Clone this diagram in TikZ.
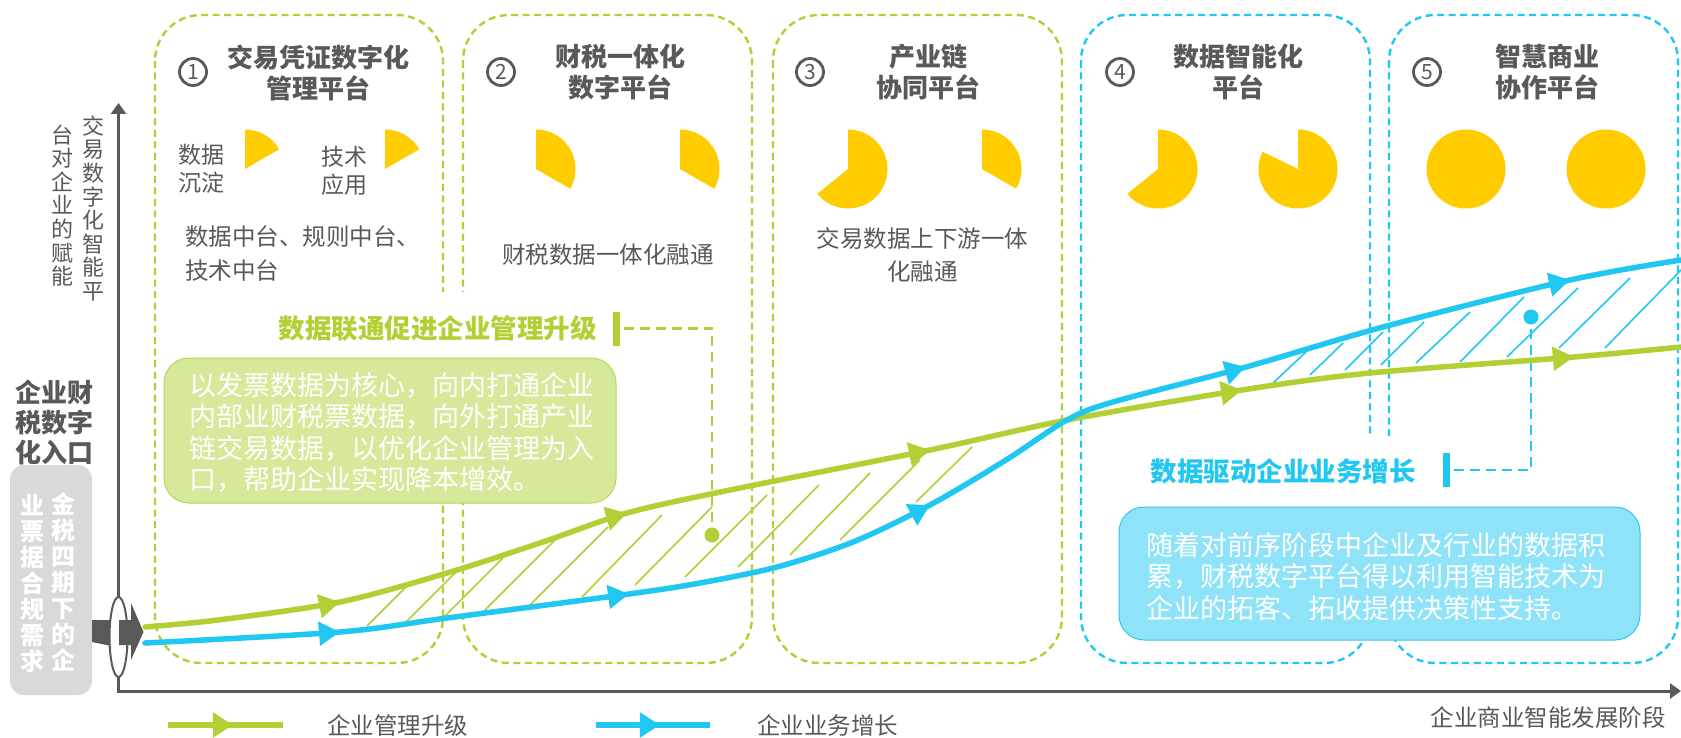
\documentclass[tikz,border=0pt]{standalone}
\usepackage{fontspec}
\setmainfont{Noto Sans CJK SC}
\usetikzlibrary{arrows.meta,decorations.markings}
\definecolor{gline}{RGB}{176,208,52}
\definecolor{bline}{RGB}{32,200,241}
\definecolor{dgray}{RGB}{89,89,89}
\definecolor{lgray}{RGB}{217,217,217}
\definecolor{pieyellow}{RGB}{255,204,0}
\definecolor{gfill}{RGB}{214,232,153}
\definecolor{gedge}{RGB}{186,214,80}
\definecolor{bfill}{RGB}{143,227,248}
\definecolor{bedge}{RGB}{50,198,240}
\begin{document}
\begin{tikzpicture}[x=1pt,y=-1pt,
  stagebox/.style={line width=2.4pt, dash pattern=on 7pt off 4.5pt, rounded corners=46pt},
  gstage/.style={stagebox, draw=gline},
  bstage/.style={stagebox, draw=bline},
  ttl/.style={font=\fontsize{26}{31}\selectfont\bfseries, text=dgray, align=center, inner sep=0pt},
  numc/.style={circle, draw=dgray, line width=2.8pt, minimum size=27pt, inner sep=0pt, font=\fontsize{21}{21}\selectfont, text=dgray},
  body/.style={font=\fontsize{23.5}{33.5}\selectfont, text=dgray, inner sep=0pt},
  pielab/.style={font=\fontsize{23}{28}\selectfont, text=dgray, align=left, inner sep=0pt},
  hatchg/.style={draw=gline, line width=1.6pt},
  hatchb/.style={draw=bline, line width=1.6pt},
  conn/.style={line width=2.4pt, dash pattern=on 10pt off 6pt},
  barbox/.style={minimum width=7pt, minimum height=34pt, inner sep=0pt},
  dotbox/.style={circle, minimum size=15pt, inner sep=0pt},
  curve/.style={line width=5.5pt, line cap=round},
  vcol/.style={font=\fontsize{24}{26}\selectfont\bfseries, text=white, align=center, inner sep=0pt},
  ylab/.style={font=\fontsize{22}{23.6}\selectfont, text=dgray, align=center, inner sep=0pt},
  note/.style={font=\fontsize{27}{31.6}\selectfont, text=white, align=left, inner sep=0pt}
]
\useasboundingbox[fill=white] (0,0) rectangle (1681,738);

% ---------- stage boxes ----------
\draw[gstage] (155,15) rectangle (443,663);
\draw[gstage] (463,15) rectangle (752,663);
\draw[gstage] (773,15) rectangle (1062,663);
\draw[bstage] (1081,15) rectangle (1370,663);
\draw[bstage] (1389,15) rectangle (1678,663);

% ---------- titles ----------
\node[numc] (n1) at (193,72) {1};
\node[ttl] (t1) at (318,72.5) {交易凭证数字化\\管理平台};
\node[numc] (n2) at (501,72) {2};
\node[ttl] (t2) at (620,72.5) {财税一体化\\数字平台};
\node[numc] (n3) at (810,72) {3};
\node[ttl] (t3) at (928,72.5) {产业链\\协同平台};
\node[numc] (n4) at (1120,72) {4};
\node[ttl] (t4) at (1238,72.5) {数据智能化\\平台};
\node[numc] (n5) at (1427,72) {5};
\node[ttl] (t5) at (1547,72.5) {智慧商业\\协作平台};

% ---------- pies ----------
\fill[pieyellow] (245,169) -- ++(0,-39.5) arc[start angle=90, end angle=30, radius=39.5pt] -- cycle;
\fill[pieyellow] (385,169) -- ++(0,-39.5) arc[start angle=90, end angle=30, radius=39.5pt] -- cycle;
\fill[pieyellow] (536,169) -- ++(0,-39.5) arc[start angle=90, end angle=-30, radius=39.5pt] -- cycle;
\fill[pieyellow] (680,169) -- ++(0,-39.5) arc[start angle=90, end angle=-30, radius=39.5pt] -- cycle;
\fill[pieyellow] (848,169) -- ++(0,-39.5) arc[start angle=90, end angle=-141, radius=39.5pt] -- cycle;
\fill[pieyellow] (982,169) -- ++(0,-39.5) arc[start angle=90, end angle=-30, radius=39.5pt] -- cycle;
\fill[pieyellow] (1158,169) -- ++(0,-39.5) arc[start angle=90, end angle=-141, radius=39.5pt] -- cycle;
\fill[pieyellow] (1298,169) -- ++(0,-39.5) arc[start angle=90, end angle=-206, radius=39.5pt] -- cycle;
\fill[pieyellow] (1466,169) circle[radius=39.5pt];
\fill[pieyellow] (1606,169) circle[radius=39.5pt];

% ---------- stage texts ----------
\node[pielab] (p1) at (201,169) {数据\\沉淀};
\node[pielab] (p2) at (344,171) {技术\\应用};
\node[body, align=left, anchor=west] (s1) at (185,253.5) {数据中台、规则中台、\\技术中台};
\node[body] (s2) at (608,255) {财税数据一体化融通};
\node[body, align=center] (s3) at (922.5,255) {交易数据上下游一体\\化融通};

% ---------- green label and note ----------
\fill[white] (262,292) rectangle (610,358);
\node[font=\fontsize{26.5}{26.5}\selectfont\bfseries, text=gline, inner sep=0pt, anchor=east] (glab) at (597,328) {数据联通促进企业管理升级};
\node[barbox, fill=gline] (gbar) at (616,328.5) {};
\fill[gfill, draw=gedge, line width=1pt, rounded corners=25pt] (164,358) rectangle (616,503);
\node[note, anchor=west] (gnote) at (189,432.5) {以发票数据为核心，向内打通企业\\内部业财税票数据，向外打通产业\\链交易数据，以优化企业管理为入\\口，帮助企业实现降本增效。};

% ---------- blue label and note ----------
\fill[white] (1140,436) rectangle (1430,506);
\node[font=\fontsize{26.5}{26.5}\selectfont\bfseries, text=bline, inner sep=0pt, anchor=east] (blab) at (1416,471) {数据驱动企业业务增长};
\node[barbox, fill=bline] (bbar) at (1446,470) {};
\fill[bfill, draw=bedge, line width=1pt, rounded corners=25pt] (1119,507) rectangle (1640,640);
\node[note, anchor=west] (bnote) at (1146,576.5) {随着对前序阶段中企业及行业的数据积\\累，财税数字平台得以利用智能技术为\\企业的拓客、拓收提供决策性支持。};

% ---------- hatching ----------
\foreach \a/\b/\c/\d in {367/626/406/587, 403/625/458/570, 444/617/503/558, 482/613/555/540,
  528/607/608/527, 582/597/662/515, 635/585/712/507, 685/577/767/495, 738/567/819/485,
  790/555/870/473, 840/540/920/460, 916/502/972/447}
  \draw[hatchg] (\a,\b) -- (\c,\d);
\foreach \a/\b/\c/\d in {1273/383/1306/352, 1310/375/1343/343, 1345/370/1383/332,
  1381/365/1424/322, 1416/363/1470/312, 1460/362/1524/297, 1507/357/1578/288,
  1559/348/1630/278, 1605/348/1681/270}
  \draw[hatchb] (\a,\b) -- (\c,\d);

% ---------- dots and dashed connectors ----------
\node[dotbox, fill=gline] (gdot) at (712,535) {};
\node[dotbox, fill=bline] (bdot) at (1531,317) {};
\draw[conn, gline, shorten <=4pt] (gbar.east) -| (gdot.north);
\draw[conn, bline, shorten <=4pt] (bbar.east) -| (bdot.south);

% ---------- curves ----------
\draw[curve, gline, postaction={decorate}, decoration={markings,
   mark=at position 0.1256 with {\arrow{Triangle[length=21pt,width=23pt]}},
   mark=at position 0.3176 with {\arrow{Triangle[length=21pt,width=23pt]}},
   mark=at position 0.5152 with {\arrow{Triangle[length=21pt,width=23pt]}},
   mark=at position 0.7182 with {\arrow{Triangle[length=21pt,width=23pt]}},
   mark=at position 0.9313 with {\arrow{Triangle[length=21pt,width=23pt]}}}]
  plot[smooth, tension=0.5] coordinates {(145,627) (218,620) (340,602) (447,573) (540,543) (627,513) (730,490) (930,450) (1067,420) (1242,390) (1370,373) (1574,357) (1681,347)};
\draw[curve, bline, postaction={decorate}, decoration={markings,
   mark=at position 0.1221 with {\arrow{Triangle[length=21pt,width=23pt]}},
   mark=at position 0.3044 with {\arrow{Triangle[length=21pt,width=23pt]}},
   mark=at position 0.5019 with {\arrow{Triangle[length=21pt,width=23pt]}},
   mark=at position 0.7196 with {\arrow{Triangle[length=21pt,width=23pt]}},
   mark=at position 0.9295 with {\arrow{Triangle[length=21pt,width=23pt]}}}]
  plot[smooth, tension=0.5] coordinates {(145,643) (340,632) (447,618) (629,594) (700,583) (777,567) (853,542) (930,505) (1006,460) (1067,420) (1113,402) (1246,367) (1383,327) (1570,280) (1681,260)};

% ---------- axes ----------
\coordinate (ytip) at (118.5,103);
\coordinate (orig) at (118.5,691);
\coordinate (xtip) at (1681,691);
\draw[dgray, line width=3pt, {Triangle[length=11pt,width=15pt]}-{Triangle[length=11pt,width=15pt]}] (ytip) -- (orig) -- (xtip);
\node[body, anchor=east] (xlab) at (1666,718) {企业商业智能发展阶段};
\node[ylab] (yl1) at (93,208.5) {交\\易\\数\\字\\化\\智\\能\\平};
\node[ylab] (yl2) at (62,205.5) {台\\对\\企\\业\\的\\赋\\能};

% ---------- entry ----------
\node[font=\fontsize{26}{30}\selectfont\bfseries, text=dgray, align=left, inner sep=0pt] (entry) at (54,422) {企业财\\税数字\\化入口};
\fill[lgray, rounded corners=14pt] (10,465) rectangle (92,695);
\node[vcol] (gc1) at (63,582) {金\\税\\四\\期\\下\\的\\企};
\node[vcol] (gc2) at (32,584) {业\\票\\据\\合\\规\\需\\求};
\fill[dgray] (92,620) -- (112,620) -- (112,646) -- (92,642) -- cycle;
\draw[dgray, fill=white, line width=2pt] (118.5,637) ellipse [x radius=9pt, y radius=40pt];
\fill[dgray] (119,620) -- (131,620) -- (131,603) -- (143.5,632) -- (131,660) -- (131,645) -- (119,645) -- cycle;

% ---------- legend ----------
\coordinate (lg1) at (168,725);
\coordinate (lg2) at (283,725);
\draw[gline, line width=6pt, postaction={decorate}, decoration={markings,
   mark=at position 0.565 with {\arrow{Triangle[length=20pt,width=24pt]}}}] (lg1) -- (lg2);
\node[body, anchor=west] (lgt1) at (327,725) {企业管理升级};
\coordinate (lb1) at (596,725);
\coordinate (lb2) at (710,725);
\draw[bline, line width=6pt, postaction={decorate}, decoration={markings,
   mark=at position 0.561 with {\arrow{Triangle[length=20pt,width=24pt]}}}] (lb1) -- (lb2);
\node[body, anchor=west] (lgt2) at (757,725) {企业业务增长};
\end{tikzpicture}
\end{document}
